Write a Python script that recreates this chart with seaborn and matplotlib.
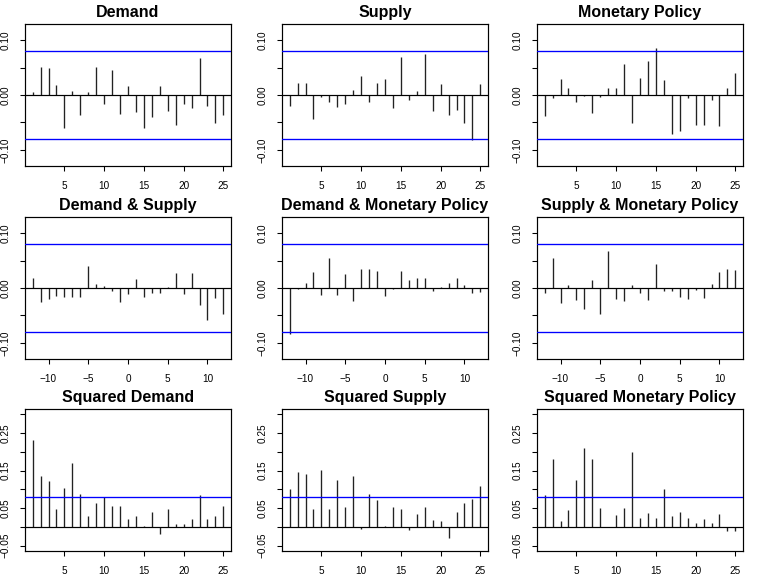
import numpy as np
import pandas as pd
import matplotlib
matplotlib.use("Agg")
import matplotlib.pyplot as plt
import seaborn as sns

# sample (cross-)correlations
lags_acf = list(range(1, 26))
lags_ccf = list(range(-12, 13))

demand = [0.005, 0.052, 0.049, 0.019, -0.060, 0.008, -0.037, 0.006, 0.052, -0.016,
          0.045, -0.035, 0.016, -0.031, -0.061, -0.041, 0.016, -0.030, -0.054, -0.016,
          -0.023, 0.068, -0.020, -0.052, -0.037]
supply = [-0.020, 0.022, 0.021, -0.043, -0.004, -0.013, -0.021, -0.016, 0.010, 0.034,
          -0.012, 0.021, 0.029, -0.024, 0.070, -0.010, 0.007, 0.074, -0.030, 0.020,
          -0.037, -0.027, -0.052, -0.083, 0.020]
monetary = [-0.038, -0.005, 0.030, 0.012, -0.013, -0.002, -0.033, -0.003, 0.013, 0.012,
            0.057, -0.051, 0.031, 0.062, 0.085, 0.028, -0.071, -0.066, -0.005, -0.055,
            -0.054, -0.010, -0.057, 0.013, 0.040]

demand_supply = [0.018, -0.026, -0.020, -0.015, -0.017, -0.017, -0.017, 0.041, 0.008,
                 0.003, -0.006, -0.026, -0.011, 0.017, -0.017, -0.009, -0.009, 0.001,
                 0.028, -0.011, 0.028, -0.031, -0.058, -0.018, -0.047]
demand_monetary = [-0.084, -0.002, 0.010, 0.029, -0.012, 0.054, -0.012, 0.025, -0.024,
                   0.034, 0.034, 0.031, -0.015, -0.001, 0.031, 0.014, 0.019, 0.018,
                   -0.006, 0.002, 0.010, 0.019, 0.005, -0.009, -0.007]
supply_monetary = [-0.009, 0.054, -0.028, 0.006, -0.022, -0.039, 0.015, -0.047, 0.067,
                   -0.020, -0.023, 0.006, -0.010, -0.021, 0.044, -0.006, -0.005, -0.016,
                   -0.020, -0.004, -0.018, 0.008, 0.029, 0.035, 0.033]

sq_demand = [0.232, 0.135, 0.122, 0.048, 0.103, 0.170, 0.089, 0.030, 0.063, 0.079,
             0.057, 0.057, 0.020, 0.030, 0.003, 0.039, -0.019, 0.047, 0.008, 0.009,
             0.022, 0.086, 0.020, 0.030, 0.057]
sq_supply = [0.100, 0.145, 0.140, 0.049, 0.152, 0.049, 0.125, 0.053, 0.135, -0.006,
             0.087, 0.071, 0.003, 0.052, 0.047, -0.008, 0.035, 0.054, 0.019, 0.017,
             -0.030, 0.040, 0.065, 0.074, 0.109]
sq_monetary = [0.084, 0.180, 0.017, 0.044, 0.126, 0.209, 0.180, 0.050, -0.001, 0.033,
               0.051, 0.200, 0.025, 0.038, 0.025, 0.100, 0.028, 0.041, 0.023, 0.011,
               0.020, 0.011, 0.034, -0.012, -0.012]

clim = 0.08

titles = ["Demand", "Supply", "Monetary Policy",
          "Demand & Supply", "Demand & Monetary Policy", "Supply & Monetary Policy",
          "Squared Demand", "Squared Supply", "Squared Monetary Policy"]
series = [demand, supply, monetary,
          demand_supply, demand_monetary, supply_monetary,
          sq_demand, sq_supply, sq_monetary]

sns.set_style("ticks")
plt.rcParams['font.family'] = ['Liberation Sans', 'DejaVu Sans']
plt.rcParams['axes.linewidth'] = 0.9

W, H = 768, 576
fig = plt.figure(figsize=(8, 6), dpi=96)

col_left = [25, 282, 537]
col_w = 206
row_top = [24, 217, 409]
row_h = 142

for i, (title, vals) in enumerate(zip(titles, series)):
    r, c = divmod(i, 3)
    ax = fig.add_axes([col_left[c] / W, 1 - (row_top[r] + row_h) / H, col_w / W, row_h / H])
    lags = lags_ccf if r == 1 else lags_acf
    df = pd.DataFrame({'lag': lags, 'acf': vals})
    sns.barplot(data=df, x='lag', y='acf', native_scale=True, width=0.001,
                color='#222222', edgecolor='#222222', linewidth=1.0, errorbar=None,
                saturation=1, ax=ax)
    ax.axhline(0, color='black', lw=0.9, zorder=3)
    ax.axhline(clim, color='#0000ff', lw=1.0, zorder=3)
    ax.axhline(-clim, color='#0000ff', lw=1.0, zorder=3)

    if r == 1:
        ax.set_xlim(-12.96, 12.96)
        ax.set_xticks([-10, -5, 0, 5, 10])
    else:
        ax.set_xlim(0.04, 25.96)
        ax.set_xticks([5, 10, 15, 20, 25])
    if r == 2:
        ax.set_ylim(-0.064, 0.314)
        yt = [-0.05, 0.0, 0.05, 0.10, 0.15, 0.20, 0.25, 0.30]
        ax.set_yticks(yt)
        ax.set_yticklabels(["\u22120.05", "", "0.05", "", "0.15", "", "0.25", ""])
    else:
        ax.set_ylim(-0.1296, 0.1296)
        yt = [-0.10, -0.05, 0.0, 0.05, 0.10]
        ax.set_yticks(yt)
        ax.set_yticklabels(["\u22120.10", "", "0.00", "", "0.10"])
    for lab in ax.get_yticklabels():
        lab.set_rotation(90)
        lab.set_va('center')
    ax.tick_params(axis='both', length=4, width=0.8, pad=7, labelsize=7.5,
                   direction='out', color='black', labelcolor='black')
    ax.set_xlabel("")
    ax.set_ylabel("")
    ax.set_title(title, fontsize=12, fontweight='bold', pad=5, color='black')
    for s in ax.spines.values():
        s.set_visible(True)
        s.set_color('black')

fig.savefig("out.png", dpi=96)
